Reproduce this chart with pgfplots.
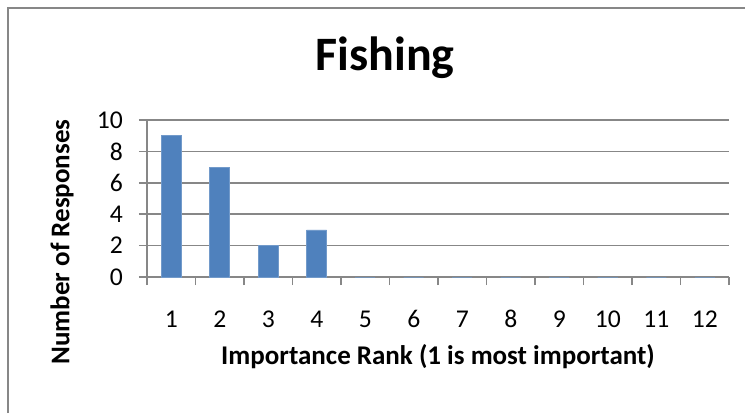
\documentclass[border=0pt]{standalone}
\usepackage{pgfplots}
\pgfplotsset{compat=1.18}
\usepackage{fontspec}
\setmainfont{Carlito}
\definecolor{barblue}{HTML}{4F81BD}
\definecolor{gridgray}{HTML}{878787}
\begin{document}
\begin{tikzpicture}
\path[use as bounding box] (-73.5pt,-68pt) rectangle (299pt,138.5pt);
\draw[gridgray,line width=0.8pt] (-69.5pt,-68pt) -- (-69.5pt,134.5pt) -- (299pt,134.5pt);
\begin{axis}[
  at={(0,0)}, anchor=south west,
  scale only axis,
  width=291pt, height=78.5pt,
  ybar, bar width=10pt,
  xmin=0.5, xmax=12.5,
  ymin=0, ymax=10,
  ytick={0,2,...,10},
  xtick={0.5,1.5,...,12.5},
  xticklabels={},
  extra x ticks={1,2,...,12},
  extra x tick labels={1,2,3,4,5,6,7,8,9,10,11,12},
  extra x tick style={xtick style={draw=none}, xticklabel style={anchor=center, yshift=-17pt, font=\fontsize{12.8}{15}\selectfont}},
  axis lines*=left,
  axis line style={gridgray,line width=0.8pt,-},
  ymajorgrids,
  grid style={gridgray,line width=0.8pt},
  tick align=outside,
  major tick length=4pt,
  tick style={gridgray,line width=0.8pt},
  /pgf/number format/assume math mode=true,
  ticklabel style={font=\fontsize{12.8}{15}\selectfont},
  yticklabel style={anchor=east, xshift=-4.5pt},
  title={Fishing},
  title style={font=\fontsize{24}{28}\selectfont\bfseries, at={(axis description cs:0.409,1)}, anchor=center, yshift=25pt},
  xlabel={Importance Rank (1 is most important)},
  xlabel style={font=\fontsize{13.5}{15}\selectfont\bfseries, at={(axis description cs:0.5,0)}, anchor=center, yshift=-40pt},
  ylabel={Number of Responses},
  ylabel style={font=\fontsize{13.5}{15}\selectfont\bfseries, at={(axis description cs:-0.146,0.223)}, anchor=center},
]
\addplot[fill=barblue, draw=barblue!80!white, line width=0.3pt] coordinates {
  (1,9) (2,7) (3,2) (4,3) (5,0) (6,0) (7,0) (8,0) (9,0) (10,0) (11,0) (12,0)
};
\end{axis}
\end{tikzpicture}
\end{document}
